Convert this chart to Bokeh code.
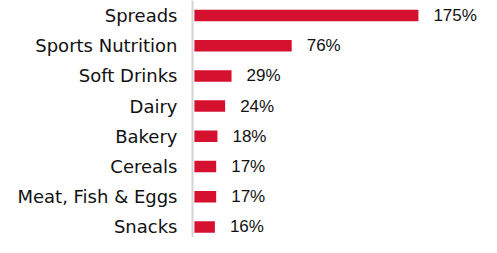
from bokeh.plotting import figure
from bokeh.models import ColumnDataSource, Range1d, FixedTicker
from bokeh.core.properties import value
from bokeh.embed import file_html
from bokeh.resources import INLINE

categories = ["Spreads", "Sports Nutrition", "Soft Drinks", "Dairy",
              "Bakery", "Cereals", "Meat, Fish & Eggs", "Snacks"]
growth = [175, 76, 29, 24, 18, 17, 17, 16]
labels = ["175%", "76%", "29%", "24%", "18%", "17%", "17%", "16%"]

pos = list(range(len(categories)))
src = ColumnDataSource(dict(y=pos, v=growth, lab=labels))

W, H = 481, 237
left_border = 192
row_px = 30.2
px_per_unit = 1.28
x0 = -1.5
x1 = x0 + (W - left_border) / px_per_unit
y_top = -15.0 / row_px
y_bot = y_top + H / row_px

p = figure(width=W, height=H, output_backend="svg", toolbar_location=None,
           x_range=Range1d(x0, x1), y_range=Range1d(y_bot, y_top),
           min_border_left=left_border, min_border_right=0,
           min_border_top=0, min_border_bottom=0)

p.hbar(y="y", left=0, right="v", height=0.38, source=src,
       color="#D6102F", line_color=None)
p.text(x="v", y="y", text="lab", source=src, x_offset=15,
       text_align="left", text_baseline="middle",
       text_font=value("Liberation Sans"), text_font_size="17px",
       text_color="#111111")

p.xaxis.visible = False
p.xgrid.visible = False
p.ygrid.visible = False
p.outline_line_color = None

ax = p.yaxis[0]
ax.ticker = FixedTicker(ticks=pos)
ax.major_label_overrides = {i: c for i, c in zip(pos, categories)}
ax.major_tick_in = 0
ax.major_tick_out = 0
ax.minor_tick_in = 0
ax.minor_tick_out = 0
ax.major_label_standoff = 15
ax.major_label_text_font = "DejaVu Sans"
ax.major_label_text_font_size = "18px"
ax.major_label_text_color = "#111111"
ax.axis_line_color = "#d4d4d4"
ax.axis_line_width = 2

open("out.html", "w").write(file_html(p, INLINE))
